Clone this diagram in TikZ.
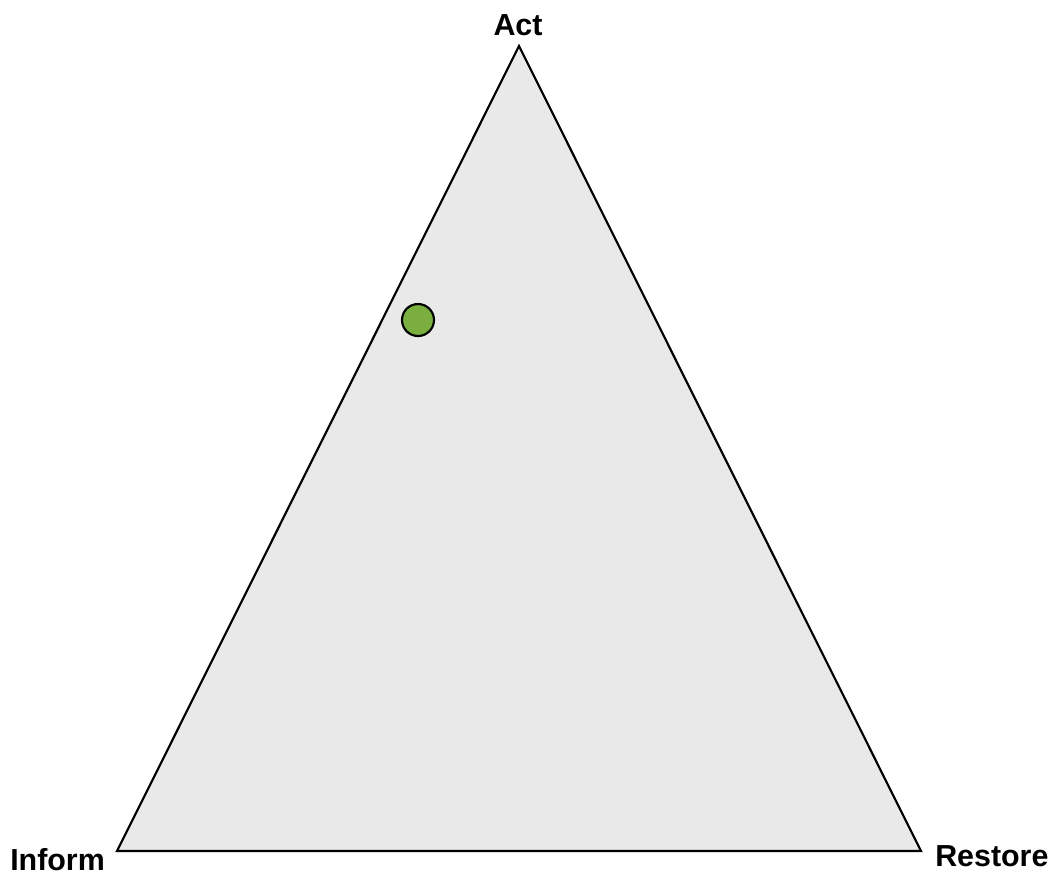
\documentclass[tikz,border=0pt]{standalone}
\usepackage{fontspec}
\setmainfont{Liberation Sans}
\definecolor{trifill}{HTML}{E9E9E9}
\definecolor{dotgreen}{HTML}{7AAE3E}
\tikzset{
  lbl/.style={font=\fontsize{22.8pt}{25pt}\selectfont\bfseries, inner sep=0pt},
  tri/.style={draw=black, fill=trifill, line width=1.6pt, line join=miter},
  dot/.style={circle, draw=black, fill=dotgreen, line width=1.6pt, minimum size=24pt, inner sep=0pt}
}
\begin{document}
\begin{tikzpicture}[x=0.75pt, y=-0.75pt]
\useasboundingbox (0,0) rectangle (1053,876);
\coordinate (A) at (519,46);
\coordinate (I) at (117,851);
\coordinate (R) at (921,851);
\draw[tri] (A) -- (R) -- (I) -- cycle;
\node[dot] (d) at (418,320) {};
\node[lbl, anchor=base] (act) at (518,35) {Act};
\node[lbl, anchor=base west] (inform) at (10,870) {Inform};
\node[lbl, anchor=base west] (restore) at (935,866) {Restore};
\end{tikzpicture}
\end{document}
